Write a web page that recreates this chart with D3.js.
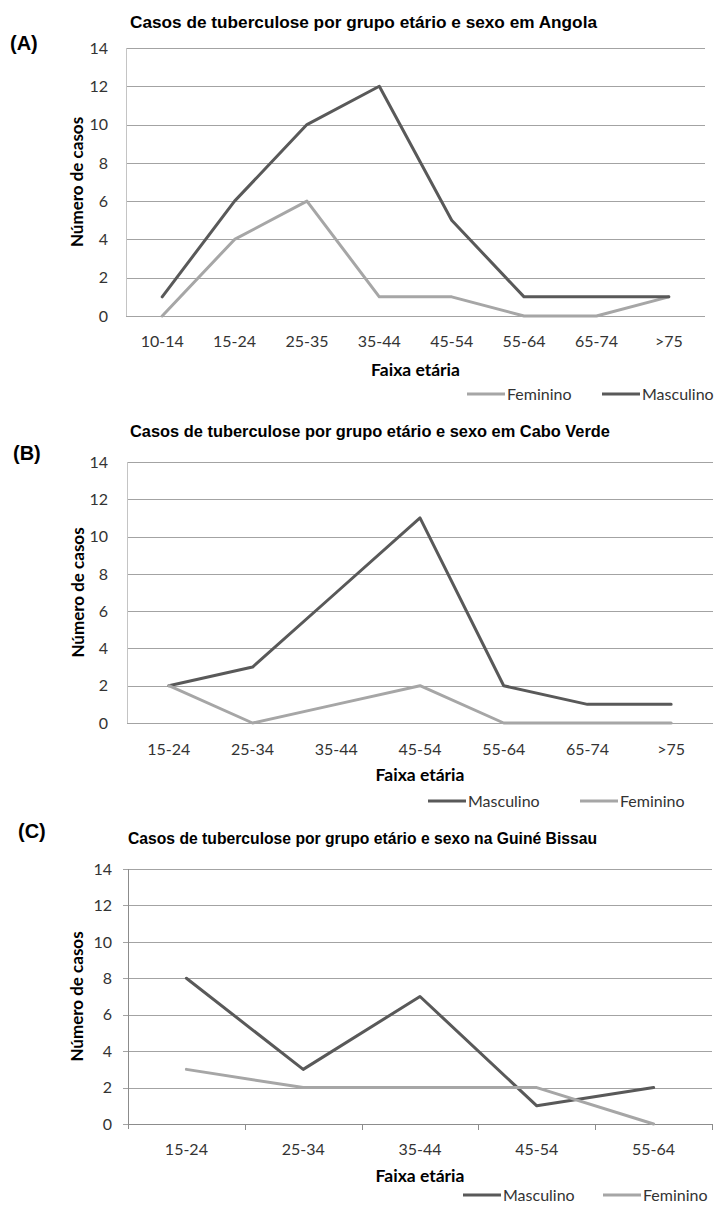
<!DOCTYPE html>
<html>
<head>
<meta charset="utf-8">
<script src="https://cdn.jsdelivr.net/npm/d3@7/dist/d3.min.js"></script>
<style>
  body { margin: 0; background: #fff; }
  text { font-family: Lato, "Open Sans", sans-serif; fill: #333; }
  .heading { font-family: "Liberation Sans", Arial, sans-serif; font-weight: bold; fill: #000; }
  .bold { font-weight: bold; fill: #000; }
</style>
</head>
<body>
<svg class="display"></svg>
<script>
// (A) Angola
const angolaAges = ['10-14', '15-24', '25-35', '35-44', '45-54', '55-64', '65-74', '>75'];
const angolaFeminino = [0, 4, 6, 1, 1, 0, 0, 1];
const angolaMasculino = [1, 6, 10, 12, 5, 1, 1, 1];

// (B) Cabo Verde
const caboVerdeAges = ['15-24', '25-34', '35-44', '45-54', '55-64', '65-74', '>75'];
const caboVerdeMasculino = [2, 3, 7, 11, 2, 1, 1];
const caboVerdeFeminino = [2, 0, 1, 2, 0, 0, 0];

// (C) Guiné Bissau
const guineAges = ['15-24', '25-34', '35-44', '45-54', '55-64'];
const guineMasculino = [8, 3, 7, 1, 2];
const guineFeminino = [3, 2, 2, 2, 0];

const yTicks = [0, 2, 4, 6, 8, 10, 12, 14];
const colors = { Masculino: '#595959', Feminino: '#a6a6a6' };

const width = 724;
const height = 1205;

const svg = d3.select('.display')
  .attr('width', width)
  .attr('height', height);

drawPanel({
  tag: '(A)', tagX: 10, tagY: 50,
  title: 'Casos de tuberculose por grupo etário e sexo em Angola',
  titleX: 130, titleY: 28, titleW: 467,
  left: 126, right: 705, top: 48, bottom: 316,
  yLabelX: 77, tickRight: 108, xTickY: 347, xLabelY: 376,
  ages: angolaAges,
  series: [
    { name: 'Feminino', values: angolaFeminino, lx: 467 },
    { name: 'Masculino', values: angolaMasculino, lx: 602 }
  ],
  legendY: 394,
  axes: false
});

drawPanel({
  tag: '(B)', tagX: 13, tagY: 460,
  title: 'Casos de tuberculose por grupo etário e sexo em Cabo Verde',
  titleX: 130, titleY: 437, titleW: 480,
  left: 127, right: 713, top: 462, bottom: 723,
  yLabelX: 78, tickRight: 108, xTickY: 755, xLabelY: 781,
  ages: caboVerdeAges,
  series: [
    { name: 'Masculino', values: caboVerdeMasculino, lx: 428 },
    { name: 'Feminino', values: caboVerdeFeminino, lx: 580 }
  ],
  legendY: 801,
  axes: false
});

drawPanel({
  tag: '(C)', tagX: 18, tagY: 838,
  title: 'Casos de tuberculose por grupo etário e sexo na Guiné Bissau',
  titleX: 128, titleY: 844, titleW: 469,
  left: 128, right: 712, top: 869, bottom: 1124,
  yLabelX: 76.5, tickRight: 112, xTickY: 1155, xLabelY: 1182,
  ages: guineAges,
  series: [
    { name: 'Masculino', values: guineMasculino, lx: 463 },
    { name: 'Feminino', values: guineFeminino, lx: 603 }
  ],
  legendY: 1195,
  axes: true
});

function drawPanel(p) {
  const g = svg.append('g');

  const x = d3.scaleBand()
    .domain(p.ages)
    .range([p.left, p.right]);

  const y = d3.scaleLinear()
    .domain([0, 14])
    .range([p.bottom, p.top]);

  const cx = d => x(d) + x.bandwidth() / 2;

  // panel tag and title
  g.append('text')
    .attr('class', 'heading')
    .attr('x', p.tagX)
    .attr('y', p.tagY)
    .style('font-size', '20px')
    .text(p.tag);

  g.append('text')
    .attr('class', 'heading')
    .attr('x', p.titleX)
    .attr('y', p.titleY)
    .attr('textLength', p.titleW)
    .attr('lengthAdjust', 'spacingAndGlyphs')
    .style('font-size', '16.5px')
    .text(p.title);

  // gridlines
  g.append('g')
    .selectAll('line')
    .data(yTicks)
    .join('line')
      .attr('x1', p.axes ? p.left - 5 : p.left)
      .attr('x2', p.right)
      .attr('y1', d => Math.round(y(d)) + 0.5)
      .attr('y2', d => Math.round(y(d)) + 0.5)
      .attr('stroke', '#a3a3a3')
      .attr('stroke-width', 1);

  // left edge
  g.append('line')
    .attr('x1', p.left + 0.5).attr('x2', p.left + 0.5)
    .attr('y1', y(14)).attr('y2', p.axes ? p.bottom + 5 : p.bottom)
    .attr('stroke', p.axes ? '#8c8c8c' : '#c4c4c4');

  if (p.axes) {
    g.append('g')
      .selectAll('line')
      .data(p.ages.slice(1).concat(['end']))
      .join('line')
        .attr('x1', d => Math.round(d === 'end' ? p.right : x(d)) + 0.5)
        .attr('x2', d => Math.round(d === 'end' ? p.right : x(d)) + 0.5)
        .attr('y1', Math.round(p.bottom))
        .attr('y2', p.bottom + 6)
        .attr('stroke', '#8c8c8c');
    g.append('line')
      .attr('x1', p.left).attr('x2', p.right)
      .attr('y1', Math.round(p.bottom) + 0.5).attr('y2', Math.round(p.bottom) + 0.5)
      .attr('stroke', '#8c8c8c');
  }

  // y tick labels
  g.append('g')
    .selectAll('text')
    .data(yTicks)
    .join('text')
      .attr('x', p.tickRight)
      .attr('y', d => y(d))
      .attr('dy', '0.36em')
      .attr('text-anchor', 'end')
      .style('font-size', '16px')
      .text(d => d);

  // x tick labels
  g.append('g')
    .selectAll('text')
    .data(p.ages)
    .join('text')
      .attr('x', cx)
      .attr('y', p.xTickY)
      .attr('text-anchor', 'middle')
      .style('font-size', '16px')
      .text(d => d);

  // axis titles
  g.append('text')
    .attr('class', 'bold')
    .attr('transform', `translate(${p.yLabelX},${(p.top + p.bottom) / 2}) rotate(-90)`)
    .attr('dy', '0.36em')
    .attr('text-anchor', 'middle')
    .style('font-size', '17px')
    .text('Número de casos');

  g.append('text')
    .attr('class', 'bold')
    .attr('x', (p.left + p.right) / 2)
    .attr('y', p.xLabelY)
    .attr('text-anchor', 'middle')
    .style('font-size', '17.5px')
    .text('Faixa etária');

  // series lines
  const line = d3.line()
    .x(d => cx(d.age))
    .y(d => y(d.value));

  g.append('g')
    .selectAll('path')
    .data(p.series)
    .join('path')
      .attr('d', s => line(s.values.map((v, i) => ({ age: p.ages[i], value: v }))))
      .attr('fill', 'none')
      .attr('stroke', s => colors[s.name])
      .attr('stroke-width', 3)
      .attr('stroke-linejoin', 'round')
      .attr('stroke-linecap', 'round');

  // legend
  const leg = g.append('g')
    .selectAll('g')
    .data(p.series)
    .join('g');

  leg.append('line')
    .attr('x1', s => s.lx)
    .attr('x2', s => s.lx + 38)
    .attr('y1', p.legendY)
    .attr('y2', p.legendY)
    .attr('stroke', s => colors[s.name])
    .attr('stroke-width', 3);

  leg.append('text')
    .attr('x', s => s.lx + 40)
    .attr('y', p.legendY)
    .attr('dy', '0.36em')
    .style('font-size', '16px')
    .text(s => s.name);
}
</script>
</body>
</html>
